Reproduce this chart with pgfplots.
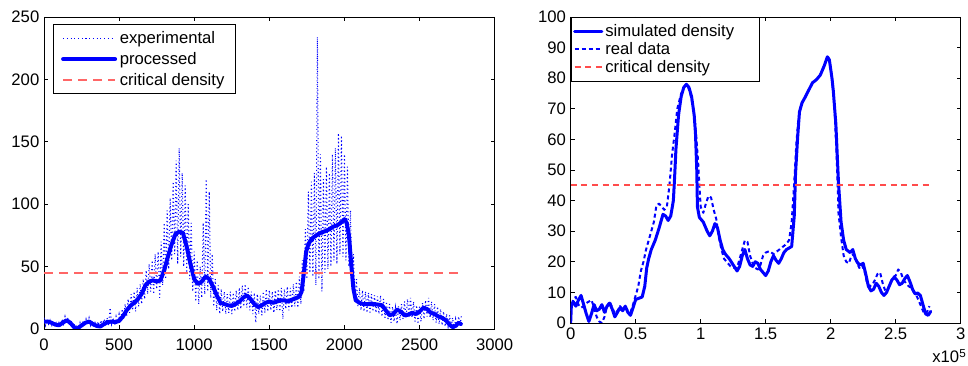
\documentclass[border=0pt]{standalone}
\usepackage{fontspec}
\setmainfont{Liberation Sans}
\usepackage{pgfplots}
\pgfplotsset{compat=1.18}
\definecolor{critred}{rgb}{1,0.4,0.4}
\definecolor{critred2}{rgb}{1,0.3,0.3}
\begin{document}
\begin{tikzpicture}[font=\fontsize{12.5}{14}\selectfont]
\useasboundingbox (-33pt,-27.75pt) rectangle (693pt,246.75pt);
\pgfplotsset{
  every axis/.append style={
    scale only axis,
    /pgf/number format/assume math mode=true,
    /pgf/number format/set thousands separator={},
    tick align=inside,
    major tick length=3pt,
    axis line style={line width=0.6pt},
    every tick/.style={black,line width=0.5pt},
    tick label style={font=\fontsize{12.5}{14}\selectfont},
    legend cell align=left,
    legend style={draw=black,line width=0.6pt,fill=white,font=\fontsize{12.5}{14}\selectfont},
  }
}
% ---------------- left axis ----------------
\begin{axis}[
  at={(0pt,0pt)}, anchor=south west,
  width=338pt, height=234pt,
  xmin=0, xmax=3000, ymin=0, ymax=250,
  xtick={0,500,...,3000}, ytick={0,50,...,250},
  xticklabel style={yshift=-4pt},
  legend image code/.code={\draw[#1] (0pt,0pt) -- (39pt,0pt);},
  legend style={at={(0.0193,0.9776)},anchor=north west,row sep=1.2pt,inner xsep=6pt,inner ysep=3pt,nodes={inner sep=2pt}},
]
\addplot[blue, line width=0.8pt, dash pattern=on 0.8pt off 2pt] coordinates {
(0,9)(10,3)(20,8)(30,4)(40,7)(50,2)(60,6)(70,3)(80,5)(90,1)
(100,6)(110,2)(120,8)(130,4)(140,10)(150,5)(160,9)(170,3)(180,7)(190,1)
(200,4)(210,0)(220,3)(230,0)(240,5)(250,1)(260,6)(270,3)(280,8)(290,4)
(300,9)(310,3)(320,7)(330,1)(340,5)(350,2)(360,6)(370,2)(380,7)(390,3)
(400,8)(410,4)(420,9)(430,3)(440,17)(450,4)(460,9)(470,3)(480,10)(490,5)
(500,12)(510,6)(520,16)(530,8)(540,20)(550,10)(560,24)(570,13)(580,28)(590,15)
(600,30)(610,14)(620,33)(630,18)(640,36)(650,20)(660,40)(670,24)(680,47)(690,28)
(700,52)(710,30)(720,55)(730,28)(740,60)(750,32)(760,62)(770,25)(780,70)(790,35)
(800,85)(810,40)(820,95)(830,48)(840,105)(850,55)(860,118)(870,60)(880,135)(890,52)
(900,145)(910,58)(920,125)(930,50)(940,115)(950,45)(960,100)(970,40)(980,85)(990,30)
(1000,62)(1010,22)(1020,55)(1030,20)(1040,50)(1050,25)(1060,85)(1070,28)(1080,120)(1090,30)
(1100,110)(1110,25)(1120,60)(1130,18)(1140,40)(1150,15)(1160,35)(1170,12)(1180,32)(1190,14)
(1200,30)(1210,12)(1220,28)(1230,13)(1240,30)(1250,12)(1260,29)(1270,14)(1280,31)(1290,15)
(1300,33)(1310,16)(1320,35)(1330,18)(1340,36)(1350,17)(1360,34)(1370,15)(1380,30)(1390,12)
(1400,29)(1410,5)(1420,28)(1430,12)(1440,27)(1450,11)(1460,30)(1470,13)(1480,32)(1490,14)
(1500,31)(1510,15)(1520,30)(1530,13)(1540,31)(1550,15)(1560,32)(1570,14)(1580,33)(1590,8)
(1600,32)(1610,16)(1620,34)(1630,15)(1640,33)(1650,17)(1660,36)(1670,18)(1680,38)(1690,17)
(1700,42)(1710,20)(1720,55)(1730,30)(1740,80)(1750,40)(1760,110)(1770,45)(1780,118)(1790,42)
(1800,125)(1810,35)(1820,234)(1830,40)(1840,140)(1850,30)(1860,120)(1870,45)(1880,130)(1890,48)
(1900,125)(1910,50)(1920,140)(1930,55)(1940,145)(1950,52)(1960,157)(1970,60)(1980,155)(1990,58)
(2000,140)(2010,55)(2020,130)(2030,50)(2040,95)(2050,35)(2060,60)(2070,22)(2080,40)(2090,18)
(2100,33)(2110,15)(2120,31)(2130,14)(2140,30)(2150,13)(2160,29)(2170,12)(2180,28)(2190,14)
(2200,27)(2210,13)(2220,26)(2230,12)(2240,27)(2250,10)(2260,24)(2270,9)(2280,22)(2290,7)
(2300,20)(2310,5)(2320,18)(2330,6)(2340,17)(2350,4)(2360,18)(2370,7)(2380,20)(2390,8)
(2400,22)(2410,9)(2420,24)(2430,10)(2440,25)(2450,9)(2460,22)(2470,6)(2480,19)(2490,4)
(2500,18)(2510,6)(2520,21)(2530,8)(2540,23)(2550,10)(2560,25)(2570,9)(2580,22)(2590,7)
(2600,20)(2610,5)(2620,18)(2630,4)(2640,16)(2650,3)(2660,14)(2670,2)(2680,12)(2690,2)
(2700,11)(2710,1)(2720,9)(2730,0)(2740,8)(2750,1)(2760,10)(2770,3)(2780,12)
};
\addlegendentry{experimental}
\addplot[blue, line width=3pt, line join=round, line cap=round] coordinates {
(0,6)(25,6)(50,5)(75,3.5)(100,3)(125,5)(150,7)(175,5)(200,1.5)(220,0)(240,2)(275,5)(300,6)
(325,4)(350,2.5)(375,2)(400,4)(425,5.5)(450,6)(475,5.5)(500,6.5)(525,10)(550,15)(575,18.5)
(600,21)(625,24)(650,28)(675,35)(700,38)(725,39)(750,38)(775,39)(800,47)(825,58)(850,68)
(875,76)(900,78)(925,77)(950,66)(975,52)(1000,40)(1025,36)(1050,38)(1075,42)(1100,40)
(1125,34)(1150,27)(1175,21)(1200,20)(1225,19)(1250,18.5)(1275,20)(1300,22)(1325,25)(1350,27)
(1375,24)(1400,20)(1425,17.5)(1450,19)(1475,21)(1500,22)(1525,21)(1550,22)(1575,23)(1600,23)
(1625,22)(1650,23.5)(1675,24.5)(1700,26)(1715,30)(1730,45)(1745,62)(1760,68)(1780,72)(1800,74)
(1825,76)(1850,77.5)(1875,78.5)(1900,80)(1925,82)(1950,83)(1975,85)(2000,88)(2015,85)(2030,75)
(2045,52)(2060,32)(2075,23)(2100,21)(2125,20)(2150,20)(2175,20)(2200,20)(2225,19.5)(2250,19)
(2275,15)(2300,11)(2325,12)(2350,15.5)(2375,14)(2400,11)(2425,11.5)(2450,13)(2475,12)(2500,14)
(2525,17)(2550,16)(2575,13)(2600,12)(2625,10)(2650,9)(2675,7)(2700,3.5)(2720,1.5)(2740,2.5)
(2760,5)(2775,4)
};
\addlegendentry{processed}
\addplot[color=critred, line width=1.2pt, dash pattern=on 6.75pt off 4.5pt] coordinates {(0,45)(2780,45)};
\addlegendentry{critical density}
\end{axis}
% ---------------- right axis ----------------
\begin{axis}[
  name=R,
  at={(395pt,4.5pt)}, anchor=south west,
  width=292.5pt, height=229.5pt,
  xmin=0, xmax=3, ymin=0, ymax=100,
  xtick={0,0.5,...,3}, ytick={0,10,...,100},
  xticklabels={0,0.5,1,1.5,2,2.5,3},
  legend image code/.code={\draw[#1] (0pt,0pt) -- (20.5pt,0pt);},
  legend style={at={(0,1)},anchor=north west,row sep=0pt,inner xsep=1.5pt,inner ysep=3.5pt,nodes={inner sep=1.5pt}},
]
\addplot[blue, line width=2.25pt, line join=round, line cap=round] coordinates {
(0,0)(0.005,5.5)(0.02,7)(0.04,5.5)(0.06,7.5)(0.08,9)(0.1,6)(0.12,3)(0.14,0.5)(0.16,3)(0.18,6)
(0.2,4)(0.22,4.5)(0.24,6)(0.26,3.5)(0.28,5.5)(0.3,6.5)(0.32,4.5)(0.34,2)(0.36,3.5)(0.38,5)
(0.4,4)(0.42,5.5)(0.44,3.5)(0.46,2.5)(0.48,5)(0.5,7.7)(0.52,8)(0.55,8.5)(0.57,12)(0.585,18)
(0.6,21)(0.62,24)(0.65,27)(0.68,31)(0.71,35.5)(0.73,35)(0.75,33.5)(0.77,35)(0.79,40)(0.8,48)
(0.81,57)(0.83,68)(0.85,74)(0.87,77)(0.89,78)(0.91,77)(0.93,74)(0.95,68)(0.96,62)(0.97,50)
(0.975,38)(0.99,34.5)(1.02,33)(1.05,30)(1.07,28.5)(1.09,30)(1.11,32.5)(1.13,31)(1.15,27)(1.17,24)
(1.19,22.5)(1.22,21)(1.25,19)(1.28,17)(1.3,18.5)(1.32,22)(1.34,24)(1.36,21)(1.38,19)(1.4,18.5)
(1.42,20)(1.44,19.5)(1.46,17.5)(1.5,15.5)(1.52,17)(1.54,20)(1.56,22)(1.58,20.5)(1.6,19.5)(1.62,21)
(1.64,23)(1.66,24)(1.68,24.5)(1.7,25)(1.72,35)(1.73,49)(1.745,60)(1.76,69)(1.78,72)(1.8,73.5)
(1.83,76)(1.86,78.5)(1.89,79.5)(1.92,81)(1.95,84)(1.975,87)(1.99,86)(2.01,80)(2.02,76)(2.04,65)
(2.06,46)(2.08,33)(2.1,27)(2.12,24)(2.15,23)(2.17,24)(2.19,21)(2.21,19.5)(2.23,19)(2.25,19.5)
(2.27,16)(2.29,12)(2.31,10.5)(2.33,11)(2.35,13)(2.37,12)(2.39,10)(2.41,9)(2.43,10)(2.45,12)
(2.47,14)(2.49,15)(2.51,14)(2.53,12.5)(2.55,13)(2.57,14.5)(2.59,15.5)(2.61,13.5)(2.63,11)(2.65,9.5)
(2.67,9.8)(2.69,9)(2.71,6)(2.73,3)(2.75,2.5)(2.77,3.8)
};
\addlegendentry{simulated density\rule{16pt}{0pt}}
\addplot[blue, line width=1.5pt, dash pattern=on 3pt off 2.25pt, line join=round] coordinates {
(0,4)(0.02,8)(0.04,8.5)(0.06,6)(0.08,5)(0.1,5.5)(0.12,6.5)(0.14,7)(0.16,7.5)(0.18,5)(0.2,2)
(0.22,0.5)(0.24,0)(0.26,2)(0.28,5.5)(0.3,7)(0.32,5)(0.34,3)(0.36,4)(0.38,5.5)(0.4,4.5)(0.42,5)
(0.44,4)(0.46,3.5)(0.48,6)(0.5,9)(0.52,12)(0.54,17)(0.56,20)(0.58,24)(0.6,27)(0.62,30)(0.64,33)
(0.66,38.5)(0.68,39)(0.7,38)(0.72,37)(0.74,38)(0.76,45)(0.78,55)(0.8,62)(0.82,70)(0.85,75)
(0.88,77.5)(0.9,77.5)(0.92,75)(0.94,71)(0.96,64)(0.98,53)(0.99,45)(1.0,38)(1.02,36)(1.04,39)
(1.06,41.5)(1.08,41)(1.1,37)(1.12,34)(1.14,28)(1.16,24)(1.18,21)(1.2,20)(1.23,18.5)(1.26,18)
(1.28,18)(1.3,21)(1.32,24)(1.34,27)(1.36,26.5)(1.38,22)(1.4,19.5)(1.42,18)(1.44,17.5)(1.46,19)
(1.48,22)(1.5,23)(1.53,23.5)(1.56,22.5)(1.59,23.5)(1.62,24.5)(1.65,25.5)(1.68,27)(1.7,33)(1.72,46)
(1.735,58)(1.75,66)(1.77,71)(1.8,73.5)(1.83,76)(1.86,78.5)(1.89,79.5)(1.92,81)(1.95,84)(1.975,87)
(1.99,86)(2.01,80)(2.03,70)(2.05,50)(2.06,36)(2.08,28)(2.1,22)(2.12,20)(2.14,19.5)(2.16,22)
(2.18,22.5)(2.2,20)(2.22,18)(2.24,19)(2.26,17)(2.28,13)(2.3,12)(2.32,12.5)(2.34,14)(2.36,16)
(2.38,16.5)(2.4,13)(2.42,10.5)(2.44,11)(2.46,13)(2.48,15)(2.5,15.5)(2.52,17.5)(2.54,16.5)(2.56,14)
(2.58,13)(2.6,12)(2.62,11.5)(2.64,10)(2.66,9)(2.68,7)(2.7,5)(2.72,3)(2.74,3.5)(2.76,5.5)
};
\addlegendentry{real data}
\addplot[color=critred2, line width=1.2pt, dash pattern=on 4.5pt off 3.5pt] coordinates {(0,45)(2.77,45)};
\addlegendentry{critical density}
\end{axis}
\node[anchor=base east, inner sep=0pt] at ([xshift=4.5pt,yshift=-30pt]R.south east) {x10\textsuperscript{5}};
\end{tikzpicture}
\end{document}
